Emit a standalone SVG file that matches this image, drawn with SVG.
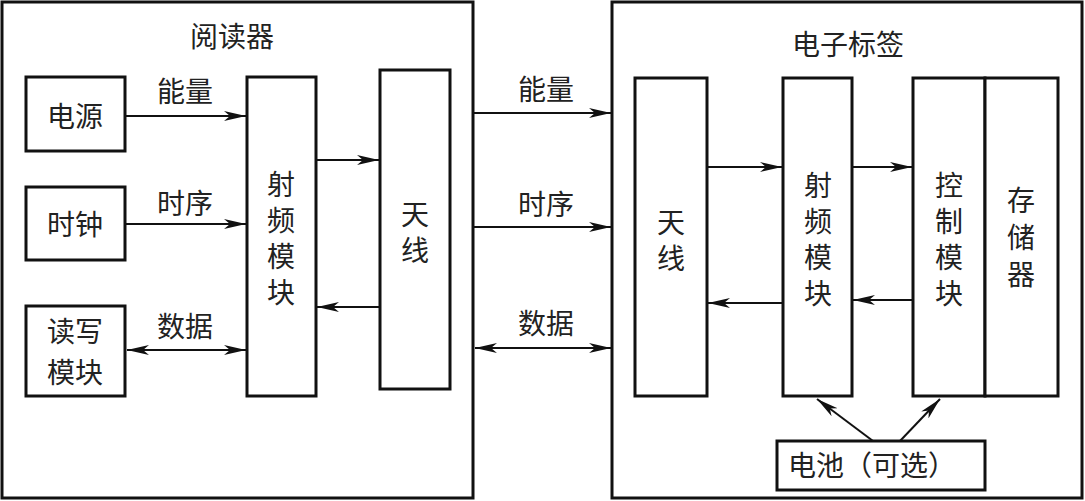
<svg xmlns="http://www.w3.org/2000/svg" width="1085" height="501" viewBox="0 0 1085 501">
<style>
.box{fill:#fff;stroke:#111;stroke-width:3}
.t{font-family:"Noto Sans CJK SC","Noto Sans CJK JP",sans-serif;font-size:28px;fill:#222;text-anchor:middle;dominant-baseline:central}
.v{writing-mode:vertical-rl;letter-spacing:8px}
.c{stroke:#111;stroke-width:2;fill:none}
</style>
<defs>
<marker id="ah" markerUnits="userSpaceOnUse" markerWidth="24" markerHeight="12" refX="22" refY="6" orient="auto-start-reverse">
<path d="M0,1 L22,6 L0,11 L6,6 Z" fill="#111"/>
</marker>
</defs>
<rect width="1085" height="501" fill="#fff"/>
<g id="reader">
<rect class="box" x="2" y="2" width="471" height="496"/>
<text class="t" x="232" y="35">阅读器</text>
</g>
<g id="tag">
<rect class="box" x="612" y="2" width="470" height="496"/>
<text class="t" x="848" y="43">电子标签</text>
</g>
<g id="power">
<rect class="box" x="26" y="77" width="99" height="74"/>
<text class="t" x="75" y="115">电源</text>
</g>
<g id="clock">
<rect class="box" x="26" y="187" width="99" height="73"/>
<text class="t" x="75" y="223">时钟</text>
</g>
<g id="rw">
<rect class="box" x="26" y="306" width="99" height="90"/>
<text class="t"><tspan x="75" y="330">读写</tspan><tspan x="75" y="371">模块</tspan></text>
</g>
<g id="reader-rf">
<rect class="box" x="247" y="77" width="69" height="319"/>
<text class="t v" x="281" y="242">射频模块</text>
</g>
<g id="reader-ant">
<rect class="box" x="380" y="70" width="70" height="319"/>
<text class="t v" x="415" y="236">天线</text>
</g>
<g id="tag-ant">
<rect class="box" x="635" y="78" width="72" height="318"/>
<text class="t v" x="671" y="244">天线</text>
</g>
<g id="tag-rf">
<rect class="box" x="783" y="78" width="69" height="318"/>
<text class="t v" x="818" y="243">射频模块</text>
</g>
<g id="tag-ctrl">
<rect class="box" x="913" y="78" width="72" height="318"/>
<text class="t v" x="949" y="243">控制模块</text>
</g>
<g id="tag-mem">
<rect class="box" x="985" y="78" width="73" height="318"/>
<text class="t v" x="1021" y="242" style="letter-spacing:9px">存储器</text>
</g>
<g id="battery">
<rect class="box" x="777" y="441" width="208" height="49"/>
<text class="t" x="872" y="464">电池（可选）</text>
</g>
<g id="connectors">
<line class="c" x1="125" y1="116" x2="246" y2="116" marker-end="url(#ah)"/>
<line class="c" x1="125" y1="224" x2="246" y2="224" marker-end="url(#ah)"/>
<line class="c" x1="127" y1="350" x2="246" y2="350" marker-start="url(#ah)" marker-end="url(#ah)"/>
<line class="c" x1="316" y1="160" x2="379" y2="160" marker-end="url(#ah)"/>
<line class="c" x1="380" y1="307" x2="317" y2="307" marker-end="url(#ah)"/>
<line class="c" x1="473" y1="113" x2="611" y2="113" marker-end="url(#ah)"/>
<line class="c" x1="473" y1="227" x2="611" y2="227" marker-end="url(#ah)"/>
<line class="c" x1="475" y1="348" x2="611" y2="348" marker-start="url(#ah)" marker-end="url(#ah)"/>
<line class="c" x1="707" y1="167" x2="782" y2="167" marker-end="url(#ah)"/>
<line class="c" x1="852" y1="167" x2="912" y2="167" marker-end="url(#ah)"/>
<line class="c" x1="783" y1="303" x2="708" y2="303" marker-end="url(#ah)"/>
<line class="c" x1="913" y1="300" x2="853" y2="300" marker-end="url(#ah)"/>
<line class="c" x1="873" y1="441" x2="817" y2="399" marker-end="url(#ah)"/>
<line class="c" x1="900" y1="441" x2="940" y2="399" marker-end="url(#ah)"/>
<text class="t" x="185" y="90">能量</text>
<text class="t" x="185" y="202">时序</text>
<text class="t" x="185" y="325">数据</text>
<text class="t" x="546" y="88">能量</text>
<text class="t" x="546" y="203">时序</text>
<text class="t" x="546" y="322">数据</text>
</g>
</svg>
